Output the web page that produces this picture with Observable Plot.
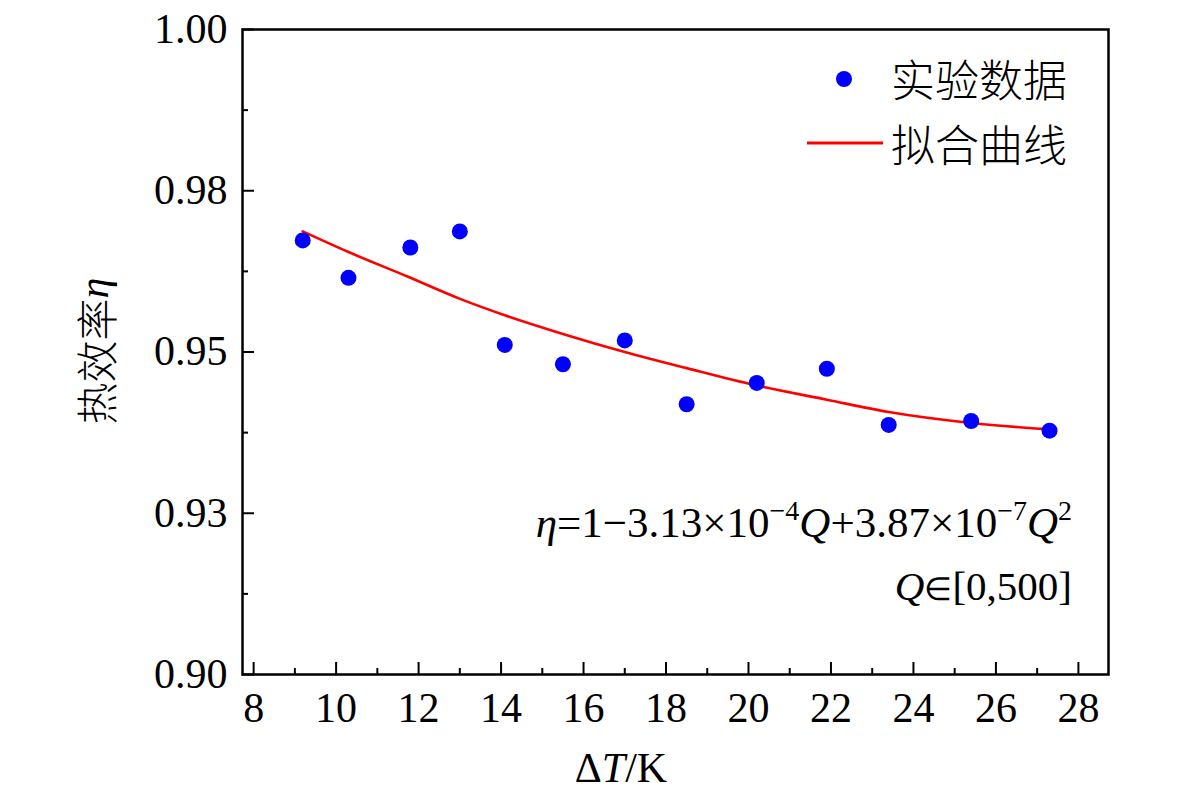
<!DOCTYPE html>
<html>
<head>
<meta charset="utf-8">
<script src="https://cdn.jsdelivr.net/npm/d3@7"></script>
<script src="https://cdn.jsdelivr.net/npm/@observablehq/plot@0.6"></script>
<style>
  html, body { margin: 0; padding: 0; background: #fff; overflow: hidden; }
  #chart { width: 1181px; height: 798px; }
</style>
</head>
<body>
<div id="chart"></div>
<script>
// Experimental data (ΔT in K, thermal efficiency η)
const deltaT = [9.19, 10.30, 11.80, 13.00, 14.09, 15.50, 17.00, 18.50, 20.20, 21.90, 23.40, 25.40, 27.30];
const etaMeasured = [0.9673, 0.9615, 0.9662, 0.9687, 0.9511, 0.9481, 0.9518, 0.9419, 0.9452, 0.9474, 0.9387, 0.9393, 0.9378];

// Fitted curve
const fitDeltaT = [9.19, 10.30, 11.73, 13.02, 14.09, 15.50, 17.00, 18.50, 20.20, 21.90, 23.40, 25.40, 27.30];
const fitEta = [0.9687, 0.9655, 0.9617, 0.9582, 0.9557, 0.9528, 0.9500, 0.9475, 0.9448, 0.9426, 0.9407, 0.9390, 0.9380];

// Axis ticks and labels
const xTicks = [8, 10, 12, 14, 16, 18, 20, 22, 24, 26, 28];
const xTickLabels = ["8", "10", "12", "14", "16", "18", "20", "22", "24", "26", "28"];
const xMinorTicks = [9, 11, 13, 15, 17, 19, 21, 23, 25, 27];
const yTicks = [0.9, 0.925, 0.95, 0.975, 1.0];
const yTickLabels = ["0.90", "0.93", "0.95", "0.98", "1.00"];
const yMinorTicks = [0.9125, 0.9375, 0.9625, 0.9875];

// Texts
const xLabelParts = [["Δ", false], ["T", true], ["/K", false]];
const yLabelCJK = "热效率";
const yLabelSymbol = "η";
const legendLabels = ["实验数据", "拟合曲线"];

const points = deltaT.map((x, i) => ({x, y: etaMeasured[i]}));
const fit = fitDeltaT.map((x, i) => ({x, y: fitEta[i]}));

const SERIF = "'Liberation Serif', 'Times New Roman', serif";
const CJK = "'Noto Sans CJK SC', 'Noto Sans', sans-serif";

const chart = Plot.plot({
  width: 1181,
  height: 798,
  marginLeft: 242,
  marginRight: 73,
  marginTop: 29,
  marginBottom: 124,
  style: {fontFamily: SERIF, fontSize: "42px", background: "white", color: "black", overflow: "visible"},
  x: {domain: [7.73, 28.73], label: null},
  y: {domain: [0.9, 1.0], label: null},
  marks: [
    Plot.axisX(xTicks, {tickSize: 12, dy: -12, tickPadding: 18, strokeWidth: 2,
      tickFormat: d => xTickLabels[xTicks.indexOf(d)], label: null, fill: "black",
      fontFamily: SERIF, fontSize: 42}),
    Plot.axisX(xMinorTicks, {tickSize: 6, dy: -6, strokeWidth: 2, tickFormat: () => "", label: null}),
    Plot.axisY(yTicks, {tickSize: 12, dx: 12, tickPadding: 15, strokeWidth: 2,
      tickFormat: d => yTickLabels[yTicks.indexOf(d)], label: null, fill: "black",
      fontFamily: SERIF, fontSize: 42}),
    Plot.axisY(yMinorTicks, {tickSize: 6, dx: 6, strokeWidth: 2, tickFormat: () => "", label: null}),
    Plot.line(fit, {x: "x", y: "y", stroke: "#ff0000", strokeWidth: 2.6, curve: "monotone-x"}),
    Plot.dot(points, {x: "x", y: "y", r: 8, fill: "#0000ff", stroke: "none"}),
    Plot.frame({stroke: "black", strokeWidth: 2.5})
  ]
});

document.getElementById("chart").appendChild(chart);

const svg = d3.select(chart);

// X axis title
const xt = svg.append("text")
  .attr("x", 621).attr("y", 782)
  .attr("text-anchor", "middle")
  .style("font-family", SERIF).style("font-size", "42px").attr("fill", "black");
xLabelParts.forEach(([t, it]) => xt.append("tspan").text(t).style("font-style", it ? "italic" : "normal"));

// Y axis title
const yt = svg.append("text")
  .attr("transform", "translate(94,351) rotate(-90)")
  .attr("text-anchor", "middle")
  .attr("dominant-baseline", "central")
  .attr("fill", "black");
yt.append("tspan").text(yLabelCJK).style("font-family", CJK).style("font-weight", "300").style("font-size", "42px");
yt.append("tspan").text(yLabelSymbol).style("font-family", SERIF).style("font-style", "italic").style("font-size", "42px");

// Legend
const lg = svg.append("g");
lg.append("circle").attr("cx", 844).attr("cy", 79).attr("r", 8).attr("fill", "#0000ff");
lg.append("line").attr("x1", 807).attr("x2", 883).attr("y1", 143).attr("y2", 143)
  .attr("stroke", "#ff0000").attr("stroke-width", 2.8);
legendLabels.forEach((t, i) => {
  lg.append("text").attr("x", 891).attr("y", 78 + i * 65)
    .attr("text-anchor", "start")
    .attr("dominant-baseline", "central")
    .style("font-family", CJK).style("font-weight", "300").style("font-size", "44px").attr("fill", "black")
    .text(t);
});

// Fit equation annotation
const eq = svg.append("text")
  .attr("x", 1072).attr("y", 537).attr("text-anchor", "end")
  .style("font-family", SERIF).style("font-size", "43px").attr("fill", "black");
const seg = (t, opts = {}) => {
  const s = eq.append("tspan").text(t);
  if (opts.italic) s.style("font-style", "italic");
  if (opts.sup) s.style("font-size", "28px").attr("dy", -17);
  if (opts.after) s.attr("dy", 17);
  return s;
};
seg("η", {italic: true});
seg("=1−3.13×10");
seg("−4", {sup: true});
seg("Q", {italic: true, after: true});
seg("+3.87×10");
seg("−7", {sup: true});
seg("Q", {italic: true, after: true});
seg("2", {sup: true});

const eq2 = svg.append("text")
  .attr("x", 1072).attr("y", 600).attr("text-anchor", "end")
  .style("font-family", SERIF).style("font-size", "41px").attr("fill", "black");
eq2.append("tspan").text("Q").style("font-style", "italic");
eq2.append("tspan").text("∈").style("font-size", "32px");
eq2.append("tspan").text("[0,500]");
</script>
</body>
</html>
